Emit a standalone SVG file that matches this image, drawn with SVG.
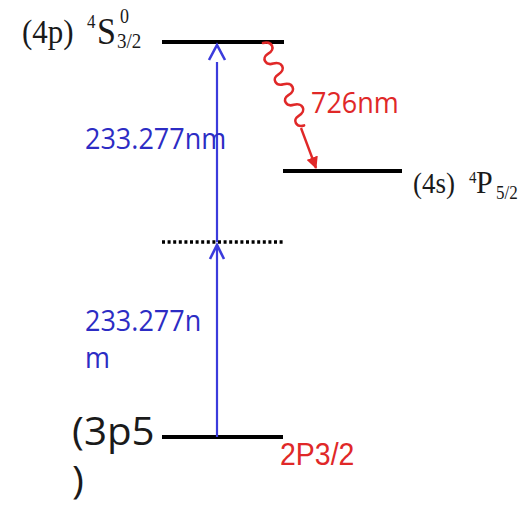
<svg xmlns="http://www.w3.org/2000/svg" width="531" height="509" viewBox="0 0 531 509">
<defs>
<style>
.lvl{stroke:#000;stroke-width:4;fill:none}
.dot{stroke:#000;stroke-width:3.5;stroke-dasharray:3 2.6;fill:none}
.beam{stroke:#3b3bdc;stroke-width:2.2;fill:none}
.chev{stroke:#3b3bdc;stroke-width:2.6;fill:none;stroke-linejoin:miter}
.wave{stroke:#e02828;stroke-width:2.6;fill:none;stroke-linecap:round}
.serif{font-family:"Liberation Serif","Times New Roman",serif;fill:#1a1a1a}
.sans{font-family:"Open Sans","DejaVu Sans",sans-serif}
.blue{fill:#2c2cc4}
.red{fill:#e02828}
</style>
<marker id="redhead" markerWidth="12" markerHeight="12" refX="11" refY="6" orient="auto" markerUnits="userSpaceOnUse">
<path d="M0,0 L12,6 L0,12 Z" fill="#e02828"/>
</marker>
</defs>
<rect width="531" height="509" fill="#fff"/>

<g id="level-4p">
<line class="lvl" x1="162" y1="42" x2="284" y2="42"/>
<g class="serif">
<text transform="translate(22,43) scale(1,1.12)" font-size="31">(4p)</text>
<text transform="translate(87,28) scale(1,1.12)" font-size="17">4</text>
<text transform="translate(97,44) scale(1,1.12)" font-size="34">S</text>
<text transform="translate(117,48) scale(1,1.12)" font-size="19">3/2</text>
<text transform="translate(120,23) scale(1,1.12)" font-size="18">0</text>
</g>
</g>

<g id="level-4s">
<line class="lvl" x1="283" y1="171" x2="402" y2="171"/>
<g class="serif">
<text transform="translate(413,193) scale(1,1.08)" font-size="27">(4s)</text>
<text transform="translate(469,183) scale(1,1.08)" font-size="15">4</text>
<text transform="translate(476,193) scale(1,1.05)" font-size="30">P</text>
<text transform="translate(496,199) scale(1,1.08)" font-size="17">5/2</text>
</g>
</g>

<g id="level-virtual">
<line class="dot" x1="162" y1="242" x2="284" y2="242"/>
</g>

<g id="level-3p5">
<line class="lvl" x1="162" y1="437" x2="283" y2="437"/>
<text class="sans" transform="translate(72,445) scale(1.12,1.05)" font-size="36" fill="#1a1a1a">(3p5</text>
<text class="sans" transform="translate(72,494) scale(1.12,1.05)" font-size="36" fill="#1a1a1a">)</text>
<text transform="translate(280,465) scale(1,1.12)" font-size="28.5" font-family="Liberation Sans, Arial, sans-serif" class="red">2P3/2</text>
</g>

<g id="connectors">
<g id="excite-1">
<line class="beam" x1="217" y1="437" x2="217" y2="245"/>
<path class="chev" d="M210,259 L217,245 L224,259"/>
</g>
<g id="excite-2">
<line class="beam" x1="217" y1="242" x2="217" y2="62"/>
<path class="chev" d="M209,60 L217,45 L225,60"/>
</g>
<g id="decay">
<g transform="translate(263,43) rotate(-24)">
<path class="wave" d="M0,0 c9,1 10,11 0,12 c-8,1 -7,10 1,11 c9,1 10,11 0,12 c-8,1 -7,10 1,11 c9,1 10,11 0,12 c-8,1 -7,10 1,11 c9,1 10,11 0,12 c-8,1 -7,10 1,11"/>
</g>
<line x1="301" y1="128" x2="316" y2="168" stroke="#e02828" stroke-width="2.4" marker-end="url(#redhead)"/>
</g>
</g>

<g id="labels">
<text class="sans blue" transform="translate(85,149) scale(1,1.08)" font-size="27">233.277nm</text>
<text class="sans blue" transform="translate(85,331) scale(1,1.08)" font-size="27">233.277n</text>
<text class="sans blue" transform="translate(85,368) scale(1,1.08)" font-size="27">m</text>
<text class="sans red" transform="translate(311,113) scale(1,1.05)" font-size="27">726nm</text>
</g>
</svg>
